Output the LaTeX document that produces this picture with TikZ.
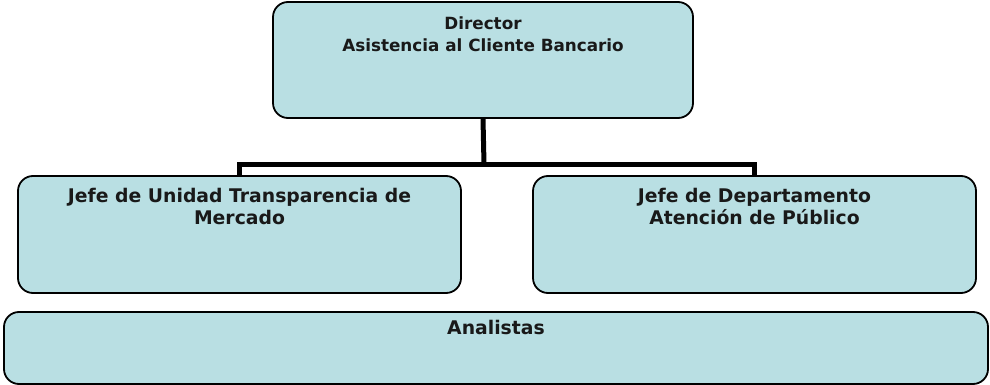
\documentclass[tikz,border=0pt]{standalone}
\usepackage{fontspec}
\setmainfont{DejaVu Sans}
\definecolor{boxfill}{HTML}{B9DFE3}
\begin{document}
\begin{tikzpicture}[x=1pt,y=-1pt,
  orgbox/.style={draw=black, line width=1.8pt, fill=boxfill, rounded corners=15pt, inner sep=0pt},
  lbl/.style={anchor=north, align=center, font=\fontsize{18.8}{21.5}\selectfont\bfseries, inner sep=0pt, text=black!90},
  toplbl/.style={lbl, font=\fontsize{16.8}{22}\selectfont\bfseries},
  conn/.style={line width=5pt, black}]
\useasboundingbox (0,0) rectangle (990,385);
\node[orgbox, minimum width=420pt, minimum height=116pt] (dir) at (483,60) {};
\node[orgbox, minimum width=443pt, minimum height=117pt] (jl) at (239.5,234.5) {};
\node[orgbox, minimum width=443pt, minimum height=117pt] (jr) at (754.5,234.5) {};
\node[orgbox, minimum width=984pt, minimum height=72pt] (an) at (496,348) {};
\node[toplbl] (tdir) at ([yshift=-15pt]dir.north) {Director\\Asistencia al Cliente Bancario};
\node[lbl] (tjl) at ([yshift=-13pt]jl.north) {Jefe de Unidad Transparencia de\\Mercado};
\node[lbl] (tjr) at ([yshift=-13pt]jr.north) {Jefe de Departamento\\Atención de Público};
\node[lbl] (tan) at ([yshift=-9pt]an.north) {Analistas};
\coordinate (bus) at (484,164);
\draw[conn] (dir.south) -- (bus);
\draw[conn] (jl.north) |- (bus) -| (jr.north);
\end{tikzpicture}
\end{document}
